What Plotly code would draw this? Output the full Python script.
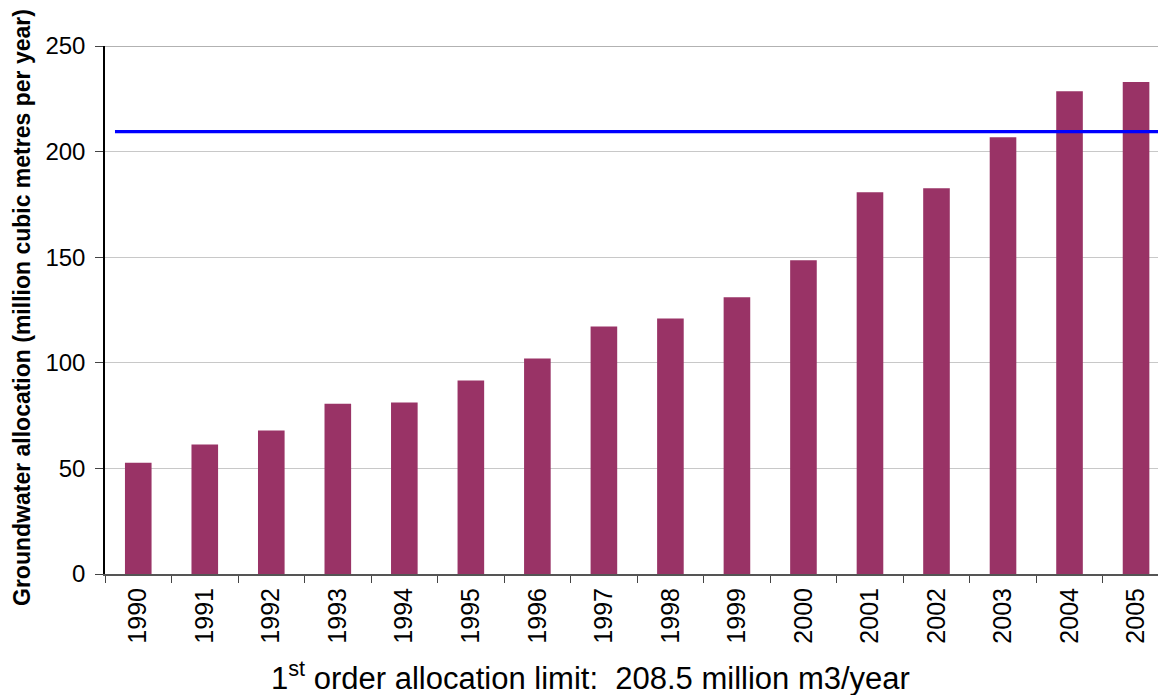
import plotly.graph_objects as go

years = ["1990", "1991", "1992", "1993", "1994", "1995", "1996", "1997",
         "1998", "1999", "2000", "2001", "2002", "2003", "2004", "2005"]
allocation = [52.7, 61.3, 67.9, 80.6, 81.2, 91.6, 102.0, 117.2,
              121.0, 131.0, 148.5, 180.7, 182.6, 206.8, 228.6, 232.9]
limit_value = 209.5
limit_label = "1<sup>st</sup> order allocation limit:  208.5 million m3/year"
y_title = "Groundwater allocation (million cubic metres per year)"

FONT = "Liberation Sans, Arial, sans-serif"
L, T, B = 105, 46, 121
PH = 695 - T - B
PW = 1158 - L

fig = go.Figure()
fig.add_trace(go.Bar(
    x=years, y=allocation,
    marker=dict(color="#993366", line=dict(width=0)),
    width=0.4, showlegend=False, hoverinfo="x+y",
))

# blue allocation limit line
fig.add_shape(type="line", xref="x", yref="y",
              x0=-0.35, x1=15.33, y0=limit_value, y1=limit_value,
              line=dict(color="#0000ff", width=3.3), layer="above")
# darker top border at 250
fig.add_shape(type="line", xref="paper", yref="y",
              x0=0, x1=1, y0=250, y1=250,
              line=dict(color="#999999", width=1.5), layer="below")

fig.update_layout(
    width=1158, height=695,
    margin=dict(l=L, r=0, t=T, b=B),
    paper_bgcolor="white", plot_bgcolor="white",
    font=dict(family=FONT, color="black"),
    bargap=0.6,
    xaxis=dict(
        type="category", range=[-0.5, 15.33],
        tickson="boundaries", ticks="outside", ticklen=7, tickcolor="#444",
        tickangle=-90, tickfont=dict(size=25, family=FONT),
        ticklabelstandoff=2,
        showline=True, linecolor="#555555", linewidth=2,
        showgrid=False, zeroline=False,
    ),
    yaxis=dict(
        range=[0, 250], tickvals=[0, 50, 100, 150, 200, 250],
        ticks="outside", ticklen=8, tickcolor="#444",
        tickfont=dict(size=24, family=FONT),
        ticklabelstandoff=5,
        showline=True, linecolor="black", linewidth=1.5,
        showgrid=True, gridcolor="#c8c8c8", gridwidth=1,
        zeroline=False,
    ),
)

# y-axis title as rotated annotation for exact placement
fig.add_annotation(
    text="<b>" + y_title + "</b>", xref="paper", yref="paper",
    x=(22 - L) / PW, y=(695 - B - 308) / PH,
    xanchor="center", yanchor="middle", textangle=-90, showarrow=False,
    font=dict(size=23, family=FONT, color="black"),
)

fig.add_annotation(
    text=limit_label, xref="paper", yref="paper",
    x=(590 - L) / PW, y=-(676 - (695 - B)) / PH,
    xanchor="center", yanchor="middle", showarrow=False,
    font=dict(size=31, family=FONT, color="black"),
)

fig.write_html("out.html")
